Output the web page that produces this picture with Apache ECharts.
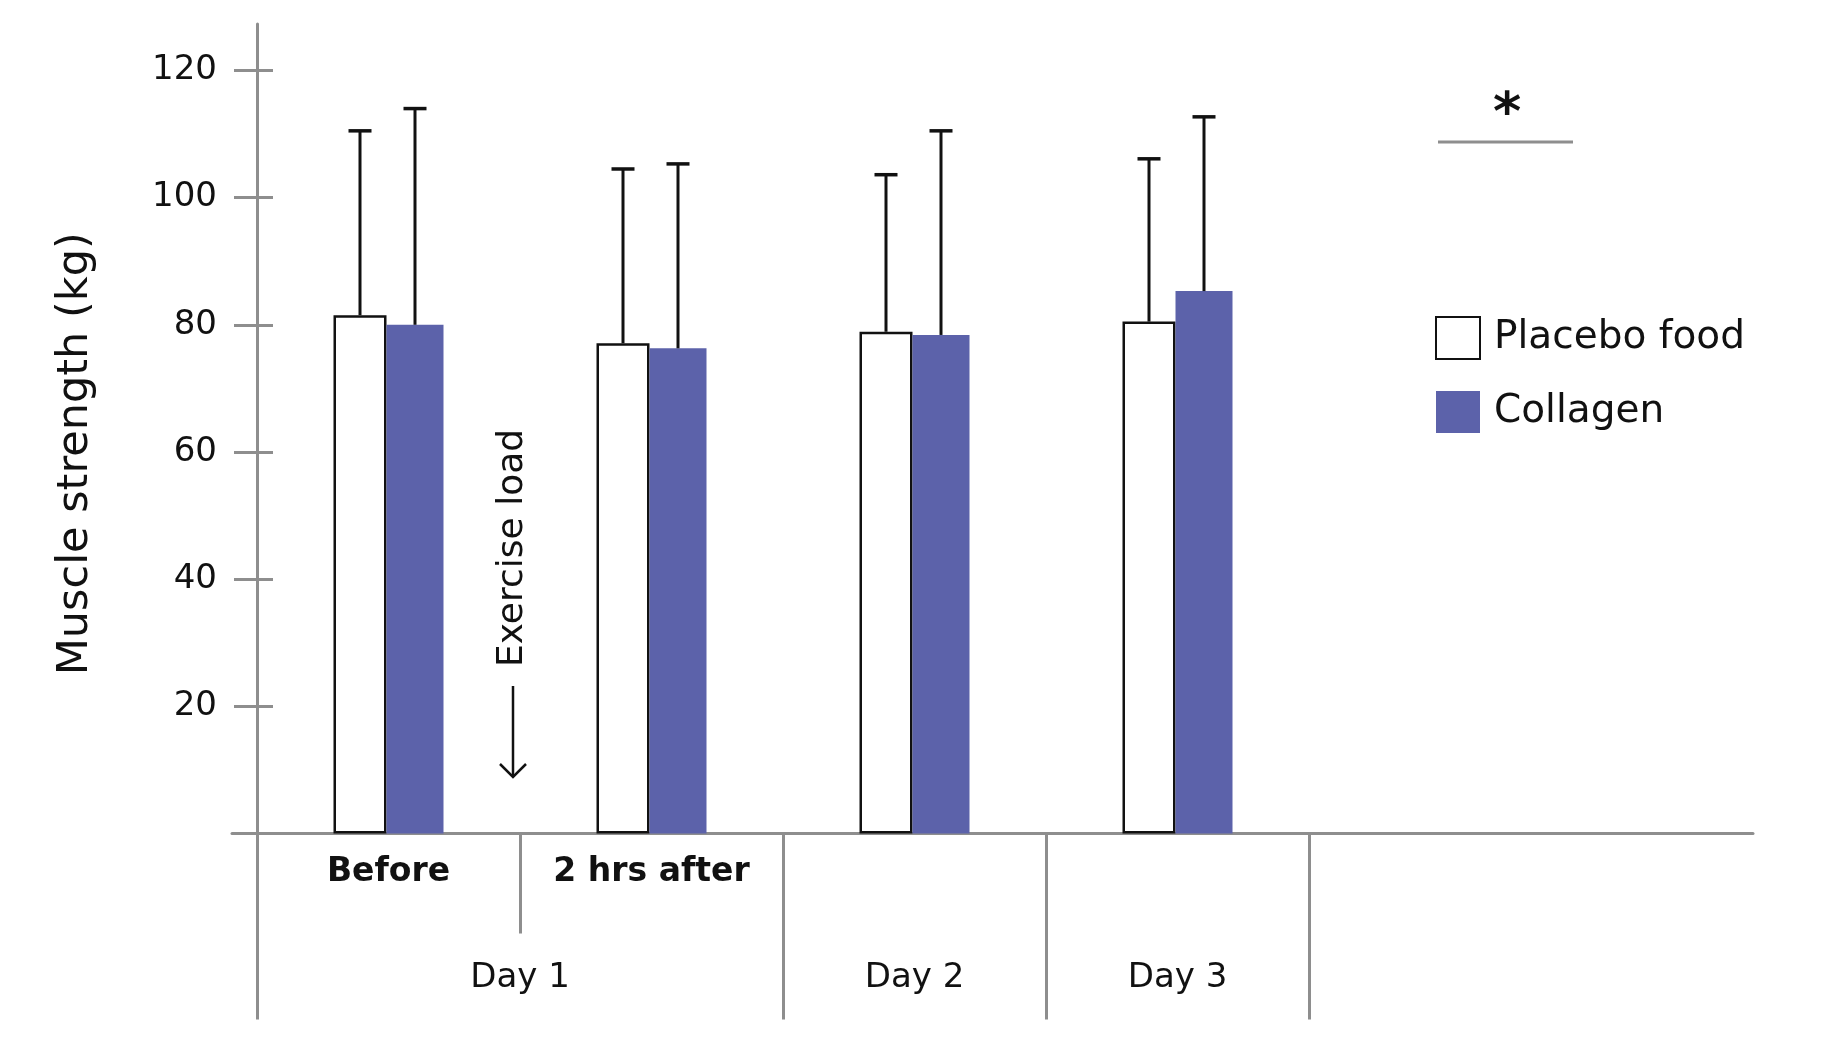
<!DOCTYPE html>
<html><head><meta charset="utf-8">
<script src="https://cdn.jsdelivr.net/npm/echarts@6/dist/echarts.min.js"></script>
<style>html,body{margin:0;padding:0;background:#fff}#c{width:1840px;height:1041px}</style>
</head><body><div id="c"></div>
<script>
// ---- data ----
const categories = ['Before', '2 hrs after', 'Day 2', 'Day 3'];
const dayLabels = ['Day 1', 'Day 2', 'Day 3'];
const daySpan = [2, 1, 1];               // how many categories each day covers
const yTicks = [20, 40, 60, 80, 100, 120];
const placeboMean  = [81.5, 77.1, 78.9, 80.5];
const placeboUpper = [110.5, 104.5, 103.6, 106.1];
const collagenMean  = [80.0, 76.3, 78.4, 85.3];
const collagenUpper = [114.0, 105.3, 110.5, 112.7];
const seriesNames = ['Placebo food', 'Collagen'];
const significance = '*';
const annotation = 'Exercise load';
const yName = 'Muscle strength (kg)';

// ---- derived ----
const separators = [0];
const dayCenters = [];
daySpan.forEach(s => { const st = separators[separators.length - 1]; dayCenters.push(st + s / 2); separators.push(st + s); });

const FONT = 'DejaVu Sans';
const GRAY = '#8e8e8e';
const INK = '#111111';
const BLUE = '#5c62aa';
const YMAX = 127.3;

function errRender(dx) {
  return function (params, api) {
    const x = api.coord([api.value(0), 0])[0] + dx;
    const yTop = api.coord([api.value(0), api.value(2)])[1];
    const yBot = api.coord([api.value(0), api.value(1)])[1];
    return { type: 'group', children: [
      { type: 'line', shape: { x1: x, y1: yBot, x2: x, y2: yTop }, style: { stroke: INK, lineWidth: 3 } },
      { type: 'line', shape: { x1: x - 11.5, y1: yTop, x2: x + 11.5, y2: yTop }, style: { stroke: INK, lineWidth: 3.5 } }
    ]};
  };
}

const chart = echarts.init(document.getElementById('c'), null, { renderer: 'canvas' });
const axisLS = { color: GRAY, width: 3 };
chart.setOption({
  animation: false,
  backgroundColor: '#fff',
  textStyle: { fontFamily: FONT },
  grid: [
    { left: 257, right: 531, top: 24, bottom: 207.5, containLabel: false },
    { left: 232, right: 87, top: 24, bottom: 207.5, containLabel: false }
  ],
  legend: {
    data: seriesNames, orient: 'vertical', left: 1430, top: 311,
    itemWidth: 44, itemHeight: 42, itemGap: 31, icon: 'rect', selectedMode: false,
    textStyle: { fontSize: 39, color: INK, fontFamily: FONT, padding: [8, 0, 0, 9] }
  },
  xAxis: [
    { type: 'category', gridIndex: 0, data: categories, position: 'bottom',
      axisLine: { show: false },
      axisTick: { show: true, length: 100, interval: 0, lineStyle: axisLS },
      axisLabel: { interval: 0, margin: 22, fontSize: 33, fontWeight: 'bold', color: INK,
        formatter: (v, i) => (i < daySpan[0] ? v : '') },
      splitLine: { show: false } },
    { type: 'value', gridIndex: 0, min: 0, max: categories.length, position: 'bottom',
      axisLine: { show: false },
      axisTick: { show: true, length: 186, customValues: separators, lineStyle: axisLS },
      axisLabel: { customValues: dayCenters, margin: 128, fontSize: 34, color: INK,
        formatter: v => dayLabels[dayCenters.indexOf(v)] || '' },
      splitLine: { show: false } },
    { type: 'value', gridIndex: 1, min: 0, max: 1, position: 'bottom',
      axisLine: { show: true, lineStyle: axisLS }, axisTick: { show: false },
      axisLabel: { show: false }, splitLine: { show: false } }
  ],
  yAxis: [
    { type: 'value', gridIndex: 0, min: 0, max: YMAX, position: 'left',
      axisLine: { show: true, lineStyle: axisLS },
      axisTick: { show: true, length: 23, customValues: yTicks, lineStyle: axisLS },
      axisLabel: { customValues: yTicks, margin: 40, fontSize: 34, color: INK },
      splitLine: { show: false },
      name: yName, nameLocation: 'middle', nameGap: 160, nameRotate: 90,
      nameTextStyle: { fontSize: 43, color: INK, padding: [0, 50, 0, 0] } },
    { type: 'value', gridIndex: 0, min: 0, max: YMAX, position: 'left',
      axisLine: { show: false },
      axisTick: { show: true, inside: true, length: 16, customValues: yTicks, lineStyle: axisLS },
      axisLabel: { show: false }, splitLine: { show: false } },
    { type: 'value', gridIndex: 1, min: 0, max: 1, show: false, splitLine: { show: false } }
  ],
  series: [
    { name: seriesNames[0], type: 'bar', xAxisIndex: 0, yAxisIndex: 0, data: placeboMean,
      barWidth: 53, barGap: '0%',
      itemStyle: { color: '#fff', borderColor: INK, borderWidth: 2.5 } },
    { name: seriesNames[1], type: 'bar', xAxisIndex: 0, yAxisIndex: 0, data: collagenMean,
      barWidth: 57, barGap: '0%', itemStyle: { color: BLUE } },
    { type: 'custom', xAxisIndex: 0, yAxisIndex: 0, z: 10, silent: true,
      data: placeboMean.map((m, i) => [i, m, placeboUpper[i]]), renderItem: errRender(-28.5) },
    { type: 'custom', xAxisIndex: 0, yAxisIndex: 0, z: 10, silent: true,
      data: collagenMean.map((m, i) => [i, m, collagenUpper[i]]), renderItem: errRender(26.5) }
  ]
});

// annotation sits at the boundary after the first category (exercise happens between Before and 2 hrs after)
const sepX = chart.convertToPixel({ xAxisIndex: 1 }, 1);
chart.setOption({
  graphic: [
    { type: 'text', x: 1507, y: 116, style: { text: significance, font: 'bold 54px "DejaVu Sans"', fill: INK, textAlign: 'center', textVerticalAlign: 'middle' } },
    { type: 'line', shape: { x1: 1438, y1: 142, x2: 1573, y2: 142 }, style: { stroke: GRAY, lineWidth: 3 } },
    { type: 'text', x: sepX - 7, y: 548, rotation: Math.PI / 2, style: { text: annotation, font: '36px "DejaVu Sans"', fill: INK, textAlign: 'center', textVerticalAlign: 'middle' } },
    { type: 'line', shape: { x1: sepX - 7, y1: 686, x2: sepX - 7, y2: 777 }, style: { stroke: INK, lineWidth: 2.5 } },
    { type: 'polyline', shape: { points: [[sepX - 20, 764], [sepX - 7, 777], [sepX + 6, 764]] }, style: { stroke: INK, lineWidth: 2.5, fill: null } }
  ]
});
</script></body></html>
